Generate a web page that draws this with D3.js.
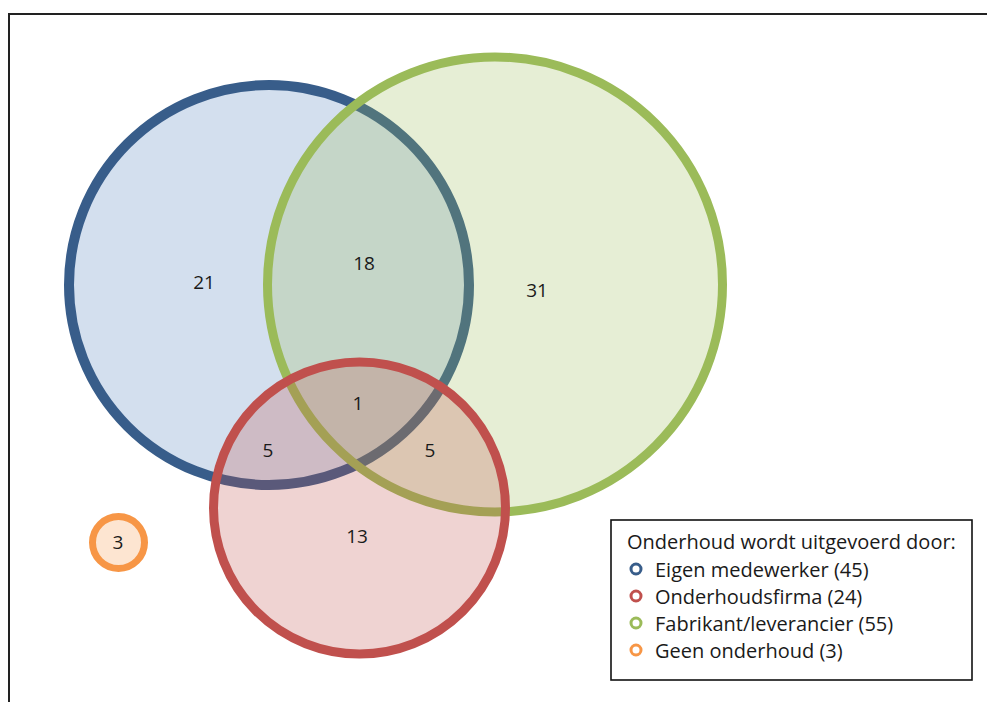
<!DOCTYPE html>
<html>
<head>
<meta charset="utf-8">
<script src="https://cdn.jsdelivr.net/npm/d3@7"></script>
<style>
  html, body { margin: 0; padding: 0; background: #ffffff; }
  svg { display: block; }
  text { font-family: "Open Sans", Lato, sans-serif; fill: #1a1a1a; }
</style>
</head>
<body>
<script>
// Sets and their totals
const setNames = ["Eigen medewerker", "Onderhoudsfirma", "Fabrikant/leverancier", "Geen onderhoud"];
const setTotals = [45, 24, 55, 3];
const setStroke = ["#385D8A", "#C0504D", "#9BBB59", "#F79646"];
const setFill = ["#4F81BD", "#C0504D", "#9BBB59", "#F79646"];

// Region counts (which sets each region belongs to)
const regionSets = [["E"], ["E", "F"], ["F"], ["E", "O", "F"], ["E", "O"], ["O", "F"], ["O"], ["G"]];
const regionValues = [21, 18, 31, 1, 5, 5, 13, 3];

const legendTitle = "Onderhoud wordt uitgevoerd door:";

// Layout in diagram units (0..100 horizontally, 0..70 vertically)
const setKeys = ["E", "O", "F", "G"];
const circleLayout = {
  E: { cx: 26.9, cy: 28.5, r: 20.0, w: 1.0 },
  O: { cx: 35.95, cy: 50.8, r: 14.6, w: 0.9 },
  F: { cx: 49.5, cy: 28.45, r: 22.75, w: 0.9 },
  G: { cx: 11.85, cy: 54.25, r: 2.6, w: 0.7 }
};
const drawOrder = ["E", "F", "O", "G"];
const labelLayout = [[20.4, 28.2], [36.4, 26.3], [53.7, 29.0], [35.8, 40.3], [26.8, 45.0], [43.0, 45.0], [35.7, 53.6], [11.8, 54.2]];

const W = 987, H = 702;
const x = d3.scaleLinear().domain([0, 100]).range([0, 1000]);
const y = d3.scaleLinear().domain([0, 70]).range([0, 700]);

const svg = d3.select("body").append("svg").attr("width", W).attr("height", H);

// Frame lines (top and left)
svg.append("path")
  .attr("d", `M9,${H} L9,14 L${W},14`)
  .attr("fill", "none")
  .attr("stroke", "#222")
  .attr("stroke-width", 2);

const circles = drawOrder.map(k => {
  const i = setKeys.indexOf(k);
  return Object.assign({ key: k, i }, circleLayout[k]);
});

const g = svg.append("g");
circles.forEach(c => {
  g.append("circle")
    .attr("cx", x(c.cx)).attr("cy", y(c.cy)).attr("r", x(c.r))
    .attr("fill", setFill[c.i]).attr("fill-opacity", 0.25)
    .attr("stroke", setStroke[c.i]).attr("stroke-width", x(c.w));
});

// Region counts
svg.append("g").selectAll("text")
  .data(regionValues)
  .join("text")
  .attr("x", (d, i) => x(labelLayout[i][0]))
  .attr("y", (d, i) => y(labelLayout[i][1]))
  .attr("text-anchor", "middle")
  .attr("dominant-baseline", "central")
  .attr("font-size", 19)
  .text(d => d);

// Legend
const lg = svg.append("g");
lg.append("rect")
  .attr("x", 611).attr("y", 520).attr("width", 361).attr("height", 160)
  .attr("fill", "#fff").attr("stroke", "#111").attr("stroke-width", 1.6);
lg.append("text")
  .attr("x", 627).attr("y", 541)
  .attr("dominant-baseline", "central")
  .attr("font-size", 20)
  .text(legendTitle);

const rowStep = 27;
setNames.forEach((name, i) => {
  const cy = 569 + i * rowStep;
  lg.append("circle")
    .attr("cx", 636).attr("cy", cy).attr("r", 5)
    .attr("fill", "none").attr("stroke", setStroke[i]).attr("stroke-width", 3);
  lg.append("text")
    .attr("x", 655).attr("y", cy)
    .attr("dominant-baseline", "central")
    .attr("font-size", 20)
    .text(`${name} (${setTotals[i]})`);
});
</script>
</body>
</html>
